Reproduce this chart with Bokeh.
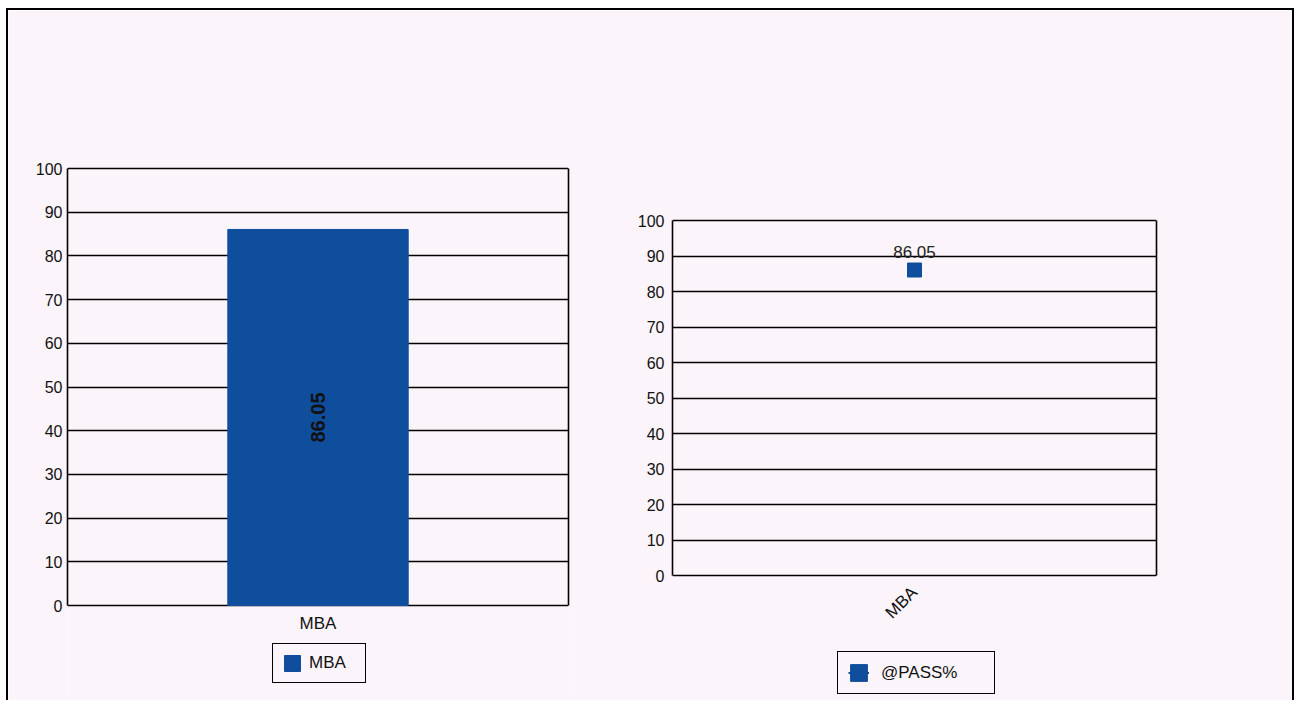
import math
from bokeh.plotting import figure
from bokeh.models import (Range1d, FactorRange, FixedTicker, Legend, LegendItem,
                          LinearAxis)
from bokeh.core.properties import value
from bokeh.embed import file_html
from bokeh.resources import INLINE

# ---- data ----
categories = ["MBA"]
pass_pct = [86.05]
bar_legend_label = "MBA"
line_legend_label = "@PASS%"
y_ticks = [0, 10, 20, 30, 40, 50, 60, 70, 80, 90, 100]

BG = "#fbf4fa"
BLUE = "#0f4e9c"
FONT = "Liberation Sans"
Y_MAX = 100
EXTRA_ABOVE = 4


def make_chart(frame_w, chart_h, extra_below, left, right, top, styles,
               ytick_standoff, xlabel_standoff):
    # frame extends below the value axis so the legend can sit inside it;
    # the axes are bounded to 0..100 so the chart box keeps its size
    y_start = -Y_MAX * extra_below / chart_h
    y_end = Y_MAX + Y_MAX * EXTRA_ABOVE / chart_h
    p = figure(x_range=FactorRange(*categories), y_range=Range1d(y_start, y_end),
               frame_width=frame_w, frame_height=chart_h + extra_below + EXTRA_ABOVE,
               min_border_left=left, min_border_right=right,
               min_border_top=top - EXTRA_ABOVE, min_border_bottom=0,
               output_backend="svg", toolbar_location=None,
               background_fill_color=BG, border_fill_color=BG,
               outline_line_color=None, styles=styles)
    p.yaxis.ticker = FixedTicker(ticks=y_ticks)
    p.yaxis.bounds = (0, Y_MAX)
    p.ygrid.ticker = FixedTicker(ticks=y_ticks)
    p.xgrid.grid_line_color = None
    p.ygrid.grid_line_color = "black"
    p.ygrid.grid_line_width = 1.6
    for ax in (p.xaxis[0], p.yaxis[0]):
        ax.major_tick_line_color = None
        ax.minor_tick_line_color = None
        ax.major_tick_out = 0
        ax.major_tick_in = 0
        ax.minor_tick_out = 0
        ax.major_label_text_font = FONT
        ax.major_label_text_color = "#111111"
    p.yaxis.axis_line_color = "black"
    p.yaxis.axis_line_width = 1.6
    p.yaxis.major_label_text_font_size = "16px"
    p.yaxis.major_label_standoff = ytick_standoff
    p.xaxis.axis_line_color = None
    p.xaxis.fixed_location = 0
    p.xaxis.major_label_text_font_size = "17px"
    p.xaxis.major_label_standoff = xlabel_standoff
    rax = LinearAxis(ticker=FixedTicker(ticks=[]), bounds=(0, Y_MAX),
                     axis_line_color="black", axis_line_width=1.6,
                     major_tick_out=0, major_tick_in=0, minor_tick_out=0,
                     major_label_text_font_size="0px")
    p.add_layout(rax, "right")
    return p


# ---- left: bar chart (also carries the page frame) ----
p1 = make_chart(501, 437, 95, 59, 724, 158,
                {"position": "absolute", "left": "6px", "top": "8px",
                 "border-top": "2px solid black",
                 "border-left": "2px solid black",
                 "border-right": "2px solid black"}, 5, 8)
bar = p1.vbar(x=categories, top=pass_pct, width=0.36,
              fill_color=BLUE, line_color=BLUE)
p1.text(x=categories, y=[v / 2 for v in pass_pct],
        text=[f"{v:.2f}" for v in pass_pct], angle=math.pi / 2,
        text_align="center", text_baseline="middle",
        text_font=value(FONT), text_font_style="bold",
        text_font_size="20px", text_color="#111111")
leg1 = Legend(items=[LegendItem(label=bar_legend_label, renderers=[bar])],
              location=(205, 17), orientation="horizontal",
              padding=9, glyph_width=20, glyph_height=20,
              label_standoff=7, label_width=47,
              label_text_font=FONT, label_text_font_size="17px",
              label_text_color="#111111",
              border_line_color="black", border_line_width=1.5,
              border_line_alpha=1.0,
              background_fill_color=BG, background_fill_alpha=1.0,
              margin=0)
p1.add_layout(leg1)

# ---- right: line/marker chart ----
p2 = make_chart(484, 355, 125, 52, 136, 210,
                {"position": "absolute", "left": "620px", "top": "10px"}, 8, 14)
p2.border_fill_alpha = 0.0
p2.xaxis.major_label_orientation = math.pi / 4
line_r = p2.line(x=categories, y=pass_pct, line_color=BLUE, line_width=2)
pt = p2.rect(x=categories, y=pass_pct, width=14, height=14,
             width_units="screen", height_units="screen",
             fill_color=BLUE, line_color=BLUE)
p2.text(x=categories, y=pass_pct, text=[f"{v:.2f}" for v in pass_pct],
        y_offset=-18, text_align="center", text_baseline="middle",
        text_font=value(FONT), text_font_size="17px", text_color="#222222")
leg2 = Legend(items=[LegendItem(label=line_legend_label, renderers=[line_r, pt])],
              location=(165, 6), orientation="horizontal",
              padding=10, glyph_width=21, glyph_height=21,
              label_standoff=12, label_width=103,
              label_text_font=FONT, label_text_font_size="17px",
              label_text_color="#111111",
              border_line_color="black", border_line_width=1.5,
              border_line_alpha=1.0,
              background_fill_color=BG, background_fill_alpha=1.0,
              margin=0)
p2.add_layout(leg2)

open("out.html", "w").write(file_html([p1, p2], INLINE))
